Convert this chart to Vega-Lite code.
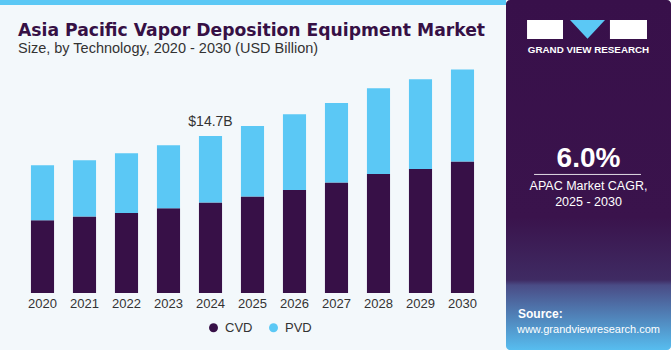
{
  "$schema": "https://vega.github.io/schema/vega-lite/v6.json",
  "background": "#f3f8fb",
  "padding": 0,
  "spacing": 0,
  "config": {"view": {"stroke": null}, "font": "Liberation Sans"},
  "hconcat": [
    {
      "spacing": 16,
      "vconcat": [
        {
          "width": 506,
          "height": 5,
          "data": {"values": [{"part": "stripe"}]},
          "mark": {"type": "rect", "color": "#5bc8f5"},
          "encoding": {}
        },
        {
          "width": 487.5,
          "height": 235,
          "title": {
            "text": "Asia Pacific Vapor Deposition Equipment Market",
            "subtitle": "Size, by Technology, 2020 - 2030 (USD Billion)",
            "anchor": "start",
            "dx": 18,
            "font": "DejaVu Sans",
            "fontSize": 17.2,
            "fontWeight": "bold",
            "color": "#361045",
            "subtitleFont": "Liberation Sans",
            "subtitleFontSize": 14.5,
            "subtitleColor": "#333333",
            "subtitlePadding": 2.8,
            "offset": 3
          },
          "data": {
            "values": [
              {"year": "2020", "technology": "CVD", "value": 6.82},
              {"year": "2020", "technology": "PVD", "value": 5.14},
              {"year": "2021", "technology": "CVD", "value": 7.16},
              {"year": "2021", "technology": "PVD", "value": 5.27},
              {"year": "2022", "technology": "CVD", "value": 7.48},
              {"year": "2022", "technology": "PVD", "value": 5.60},
              {"year": "2023", "technology": "CVD", "value": 7.94},
              {"year": "2023", "technology": "PVD", "value": 5.89},
              {"year": "2024", "technology": "CVD", "value": 8.47},
              {"year": "2024", "technology": "PVD", "value": 6.23},
              {"year": "2025", "technology": "CVD", "value": 9.03},
              {"year": "2025", "technology": "PVD", "value": 6.61},
              {"year": "2026", "technology": "CVD", "value": 9.65},
              {"year": "2026", "technology": "PVD", "value": 7.08},
              {"year": "2027", "technology": "CVD", "value": 10.34},
              {"year": "2027", "technology": "PVD", "value": 7.45},
              {"year": "2028", "technology": "CVD", "value": 11.15},
              {"year": "2028", "technology": "PVD", "value": 8.01},
              {"year": "2029", "technology": "CVD", "value": 11.62},
              {"year": "2029", "technology": "PVD", "value": 8.38},
              {"year": "2030", "technology": "CVD", "value": 12.30},
              {"year": "2030", "technology": "PVD", "value": 8.63}
            ]
          },
          "layer": [
            {
              "mark": {"type": "bar"},
              "encoding": {
                "x": {
                  "field": "year",
                  "type": "ordinal",
                  "scale": {"paddingInner": 0.45, "paddingOuter": 0.5286, "align": 0.697},
                  "axis": {"title": null, "labelAngle": 0, "ticks": false, "domain": false, "labelFontSize": 13, "labelColor": "#333333", "labelPadding": 4}
                },
                "y": {
                  "field": "value",
                  "type": "quantitative",
                  "stack": "zero",
                  "scale": {"domain": [0, 22], "nice": false},
                  "axis": null
                },
                "color": {
                  "field": "technology",
                  "type": "nominal",
                  "scale": {"domain": ["CVD", "PVD"], "range": ["#371047", "#5bc8f5"]},
                  "legend": {
                    "title": null,
                    "orient": "none",
                    "legendX": 207,
                    "legendY": 321,
                    "direction": "horizontal",
                    "symbolType": "circle",
                    "symbolSize": 80,
                    "symbolOpacity": 1,
                    "labelFontSize": 13,
                    "labelColor": "#333333",
                    "labelOffset": 5,
                    "columnPadding": 14
                  }
                },
                "order": {"field": "technology", "sort": "ascending"}
              }
            },
            {
              "transform": [
                {"filter": "datum.year == '2024'"},
                {"aggregate": [{"op": "sum", "field": "value", "as": "total"}], "groupby": ["year"]},
                {"calculate": "'$' + format(datum.total, '.1f') + 'B'", "as": "label"}
              ],
              "mark": {"type": "text", "baseline": "bottom", "dy": -7, "fontSize": 14, "color": "#333333"},
              "encoding": {
                "x": {"field": "year", "type": "ordinal"},
                "y": {"field": "total", "type": "quantitative"},
                "text": {"field": "label"}
              }
            }
          ]
        }
      ]
    },
    {
      "width": 165,
      "height": 350,
      "data": {
        "values": [
          {"item": "brand", "text": "GRAND VIEW RESEARCH"},
          {"item": "cagr", "text": "6.0%"},
          {"item": "desc1", "text": "APAC Market CAGR,"},
          {"item": "desc2", "text": "2025 - 2030"},
          {"item": "src", "text": "Source:"},
          {"item": "url", "text": "www.grandviewresearch.com"}
        ]
      },
      "layer": [
        {
          "data": {"values": [{"part": "panel"}]},
          "mark": {
            "type": "rect",
            "cornerRadius": 4,
            "color": {
              "gradient": "linear",
              "x1": 0, "y1": 0, "x2": 0, "y2": 1,
              "stops": [
                {"offset": 0, "color": "#38104a"},
                {"offset": 0.62, "color": "#3a134c"},
                {"offset": 0.8, "color": "#3f2b63"},
                {"offset": 0.815, "color": "#4a4c86"},
                {"offset": 1, "color": "#57bdef"}
              ]
            }
          },
          "encoding": {}
        },
        {
          "data": {"values": [{"part": "logo-left"}]},
          "mark": {"type": "rect", "color": "#ffffff", "yOffset": 1, "y2Offset": 4.5},
          "encoding": {
            "x": {"datum": -0.745, "type": "quantitative", "scale": {"domain": [-1, 1], "nice": false, "zero": false}, "axis": null},
            "x2": {"datum": -0.309},
            "y": {"datum": "a", "type": "ordinal", "scale": {"type": "point", "domain": ["a", "b", "brand", "c", "d", "e", "f", "g", "h", "cagr", "rule", "desc1", "desc2", "i", "j", "k", "l", "m", "n", "src", "url"], "range": [18.9, 330], "padding": 0}, "axis": null},
            "y2": {"datum": "b"}
          }
        },
        {
          "data": {"values": [{"part": "logo-right"}]},
          "mark": {"type": "rect", "color": "#ffffff", "yOffset": 1, "y2Offset": 4.5},
          "encoding": {
            "x": {"datum": 0.26, "type": "quantitative"},
            "x2": {"datum": 0.709},
            "y": {"datum": "a", "type": "ordinal"},
            "y2": {"datum": "b"}
          }
        },
        {
          "data": {"values": [{"part": "logo-mid"}]},
          "mark": {"type": "point", "shape": "M-1,-0.54L1,-0.54L0,0.54Z", "size": 1225, "filled": true, "opacity": 1, "color": "#5bc8f5", "yOffset": 10.5},
          "encoding": {
            "x": {"datum": -0.012, "type": "quantitative"},
            "y": {"datum": "a", "type": "ordinal"}
          }
        },
        {
          "transform": [{"filter": "datum.item == 'brand'"}],
          "mark": {"type": "text", "color": "#ffffff", "fontSize": 9.8, "fontWeight": "bold", "baseline": "middle"},
          "encoding": {"y": {"field": "item", "type": "ordinal"}, "text": {"field": "text"}}
        },
        {
          "transform": [{"filter": "datum.item == 'cagr'"}],
          "mark": {"type": "text", "color": "#ffffff", "fontSize": 28, "fontWeight": "bold", "baseline": "middle"},
          "encoding": {"y": {"field": "item", "type": "ordinal"}, "text": {"field": "text"}}
        },
        {
          "data": {"values": [{"part": "divider"}]},
          "mark": {"type": "rule", "color": "#ffffff", "strokeWidth": 1, "opacity": 0.85},
          "encoding": {
            "x": {"datum": -0.66, "type": "quantitative"},
            "x2": {"datum": 0.636},
            "y": {"datum": "rule", "type": "ordinal"}
          }
        },
        {
          "transform": [{"filter": "datum.item == 'desc1' || datum.item == 'desc2'"}],
          "mark": {"type": "text", "color": "#ffffff", "fontSize": 12.5, "baseline": "alphabetic"},
          "encoding": {"y": {"field": "item", "type": "ordinal"}, "text": {"field": "text"}}
        },
        {
          "transform": [{"filter": "datum.item == 'src'"}],
          "mark": {"type": "text", "color": "#ffffff", "fontSize": 12, "fontWeight": "bold", "baseline": "middle", "align": "left"},
          "encoding": {
            "x": {"datum": -0.855, "type": "quantitative"},
            "y": {"field": "item", "type": "ordinal"},
            "text": {"field": "text"}
          }
        },
        {
          "transform": [{"filter": "datum.item == 'url'"}],
          "mark": {"type": "text", "color": "#ffffff", "fontSize": 11, "baseline": "middle"},
          "encoding": {"y": {"field": "item", "type": "ordinal"}, "text": {"field": "text"}}
        }
      ]
    }
  ]
}
